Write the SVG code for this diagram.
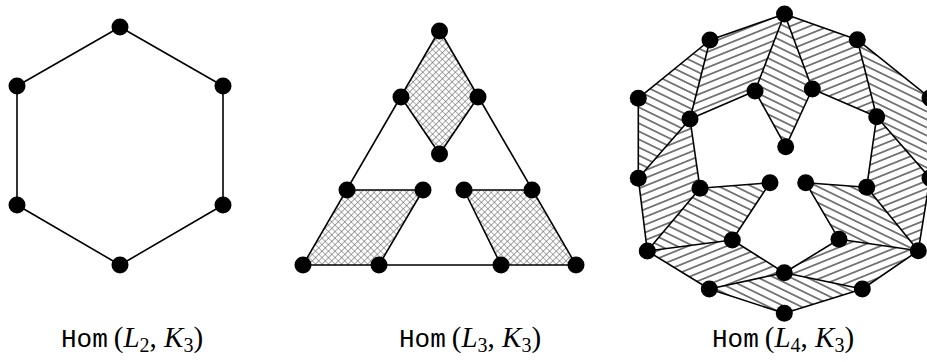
<svg xmlns="http://www.w3.org/2000/svg" width="927" height="362" viewBox="0 0 927 362">
<style>
.e{stroke:#000;stroke-width:1.6;fill:none;stroke-linecap:round;stroke-linejoin:round}
.d{fill:#000}
.lbl{font-family:"Liberation Serif",serif;font-size:29px;fill:#000}
.tt{font-family:"Liberation Mono",monospace;font-size:26px}
.it{font-style:italic}
.sub{font-size:20px}
</style>
<defs>
<pattern id="xh" width="4.6" height="4.6" patternUnits="userSpaceOnUse" patternTransform="rotate(45)">
<path d="M0 0H4.6M0 0V4.6" stroke="#5a5a5a" stroke-width="1.1"/>
</pattern>
<pattern id="hR" width="10" height="7.2" patternUnits="userSpaceOnUse" patternTransform="rotate(-22)">
<line x1="0" y1="3.6" x2="10" y2="3.6" stroke="#222" stroke-width="1.15"/>
</pattern>
<pattern id="hD" width="10" height="7.2" patternUnits="userSpaceOnUse" patternTransform="rotate(26)">
<line x1="0" y1="3.6" x2="10" y2="3.6" stroke="#222" stroke-width="1.15"/>
</pattern>
</defs>
<rect width="927" height="362" fill="#fff"/>

<g id="faces">
<polygon fill="url(#xh)" points="439.5,30 401,97 439.5,154 478,97"/>
<polygon fill="url(#xh)" points="347,190 423,190 379,265 303,265"/>
<polygon fill="url(#xh)" points="464,190 532,190 576,265 501,265"/>
<polygon fill="url(#hR)" points="784.5,14 710,40 690,119 755,91"/>
<polygon fill="url(#hD)" points="710,40 638.3,98.3 638.3,178.3 690,119"/>
<polygon fill="url(#hR)" points="638.3,178.3 690,119 700,188.3 647.3,251"/>
<polygon fill="url(#hD)" points="784.5,14 755,91 785.7,146.7 812.3,89"/>
<polygon fill="url(#hR)" points="784.5,14 857.3,39.7 876.7,116.7 812.3,89"/>
<polygon fill="url(#hD)" points="857.3,39.7 930,98 930,178 876.7,116.7"/>
<polygon fill="url(#hR)" points="876.7,116.7 930,178 918.3,250.7 866.7,187.3"/>
<polygon fill="url(#hD)" points="647.3,251 700,188.3 770,182.7 732.3,240"/>
<polygon fill="url(#hR)" points="647.3,251 732.3,240 784.3,272.7 709.3,289"/>
<polygon fill="url(#hD)" points="709.3,289 784.3,272.7 862.3,289 784.3,313.3"/>
<polygon fill="url(#hR)" points="784.3,272.7 839,239.3 918.3,250.7 862.3,289"/>
<polygon fill="url(#hD)" points="918.3,250.7 866.7,187.3 805.7,182.7 839,239.3"/>
</g>

<g id="connectors">
<polygon class="e" points="120,27 223,86 223,205 120,265 17,205 17,86"/>
<polygon class="e" points="439.5,30 576,265 303,265"/>
<path class="e" d="M401,97L439.5,154L478,97M347,190H423L379,265M464,190H532M464,190L501,265"/>
<polygon class="e" points="784.5,14 710,40 638.3,98.3 638.3,178.3 647.3,251 709.3,289 784.3,313.3 862.3,289 918.3,250.7 930,178 930,98 857.3,39.7"/>
<path class="e" d="M710,40L690,119L755,91L784.5,14M690,119L638.3,178.3M690,119L700,188.3L647.3,251M755,91L785.7,146.7L812.3,89L784.5,14M857.3,39.7L876.7,116.7L812.3,89M876.7,116.7L930,178M876.7,116.7L866.7,187.3L918.3,250.7M866.7,187.3L805.7,182.7L839,239.3L918.3,250.7M839,239.3L784.3,272.7L862.3,289M784.3,272.7L709.3,289M784.3,272.7L732.3,240L647.3,251M700,188.3L770,182.7L732.3,240"/>
</g>

<g id="n2_1"><circle class="d" cx="120" cy="27" r="8.5"/></g>
<g id="n2_2"><circle class="d" cx="223" cy="86" r="8.5"/></g>
<g id="n2_3"><circle class="d" cx="223" cy="205" r="8.5"/></g>
<g id="n2_4"><circle class="d" cx="120" cy="265" r="8.5"/></g>
<g id="n2_5"><circle class="d" cx="17" cy="205" r="8.5"/></g>
<g id="n2_6"><circle class="d" cx="17" cy="86" r="8.5"/></g>

<g id="n3_1"><circle class="d" cx="439.5" cy="31" r="8.5"/></g>
<g id="n3_2"><circle class="d" cx="401" cy="97" r="8.5"/></g>
<g id="n3_3"><circle class="d" cx="478" cy="97" r="8.5"/></g>
<g id="n3_4"><circle class="d" cx="439.5" cy="154" r="8.5"/></g>
<g id="n3_5"><circle class="d" cx="347" cy="190" r="8.5"/></g>
<g id="n3_6"><circle class="d" cx="423" cy="190" r="8.5"/></g>
<g id="n3_7"><circle class="d" cx="464" cy="190" r="8.5"/></g>
<g id="n3_8"><circle class="d" cx="532" cy="190" r="8.5"/></g>
<g id="n3_9"><circle class="d" cx="303" cy="265" r="8.5"/></g>
<g id="n3_10"><circle class="d" cx="379" cy="265" r="8.5"/></g>
<g id="n3_11"><circle class="d" cx="501" cy="265" r="8.5"/></g>
<g id="n3_12"><circle class="d" cx="576" cy="265" r="8.5"/></g>

<g id="n4_A"><circle class="d" cx="784.5" cy="14" r="8.5"/></g>
<g id="n4_B"><circle class="d" cx="710" cy="40" r="8.5"/></g>
<g id="n4_C"><circle class="d" cx="857.3" cy="39.7" r="8.5"/></g>
<g id="n4_D"><circle class="d" cx="638.3" cy="98.3" r="8.5"/></g>
<g id="n4_E"><circle class="d" cx="930" cy="98" r="8.5"/></g>
<g id="n4_F"><circle class="d" cx="690" cy="119" r="8.5"/></g>
<g id="n4_G"><circle class="d" cx="755" cy="91" r="8.5"/></g>
<g id="n4_H"><circle class="d" cx="812.3" cy="89" r="8.5"/></g>
<g id="n4_I"><circle class="d" cx="876.7" cy="116.7" r="8.5"/></g>
<g id="n4_J"><circle class="d" cx="785.7" cy="146.7" r="8.5"/></g>
<g id="n4_K"><circle class="d" cx="638.3" cy="178.3" r="8.5"/></g>
<g id="n4_L"><circle class="d" cx="700" cy="188.3" r="8.5"/></g>
<g id="n4_M"><circle class="d" cx="770" cy="182.7" r="8.5"/></g>
<g id="n4_N"><circle class="d" cx="805.7" cy="182.7" r="8.5"/></g>
<g id="n4_O"><circle class="d" cx="866.7" cy="187.3" r="8.5"/></g>
<g id="n4_P"><circle class="d" cx="930" cy="178" r="8.5"/></g>
<g id="n4_Q"><circle class="d" cx="647.3" cy="251" r="8.5"/></g>
<g id="n4_R"><circle class="d" cx="732.3" cy="240" r="8.5"/></g>
<g id="n4_S"><circle class="d" cx="839" cy="239.3" r="8.5"/></g>
<g id="n4_T"><circle class="d" cx="918.3" cy="250.7" r="8.5"/></g>
<g id="n4_U"><circle class="d" cx="784.3" cy="272.7" r="8.5"/></g>
<g id="n4_V"><circle class="d" cx="709.3" cy="289" r="8.5"/></g>
<g id="n4_W"><circle class="d" cx="862.3" cy="289" r="8.5"/></g>
<g id="n4_X"><circle class="d" cx="784.3" cy="313.3" r="8.5"/></g>

<g id="labels">
<text class="lbl" x="132" y="347" text-anchor="middle"><tspan class="tt">Hom</tspan><tspan dx="6">(</tspan><tspan class="it">L</tspan><tspan class="sub" dy="5">2</tspan><tspan dy="-5">, </tspan><tspan class="it">K</tspan><tspan class="sub" dy="5">3</tspan><tspan dy="-5">)</tspan></text>
<text class="lbl" x="470" y="347" text-anchor="middle"><tspan class="tt">Hom</tspan><tspan dx="6">(</tspan><tspan class="it">L</tspan><tspan class="sub" dy="5">3</tspan><tspan dy="-5">, </tspan><tspan class="it">K</tspan><tspan class="sub" dy="5">3</tspan><tspan dy="-5">)</tspan></text>
<text class="lbl" x="783" y="347" text-anchor="middle"><tspan class="tt">Hom</tspan><tspan dx="6">(</tspan><tspan class="it">L</tspan><tspan class="sub" dy="5">4</tspan><tspan dy="-5">, </tspan><tspan class="it">K</tspan><tspan class="sub" dy="5">3</tspan><tspan dy="-5">)</tspan></text>
</g>
</svg>
